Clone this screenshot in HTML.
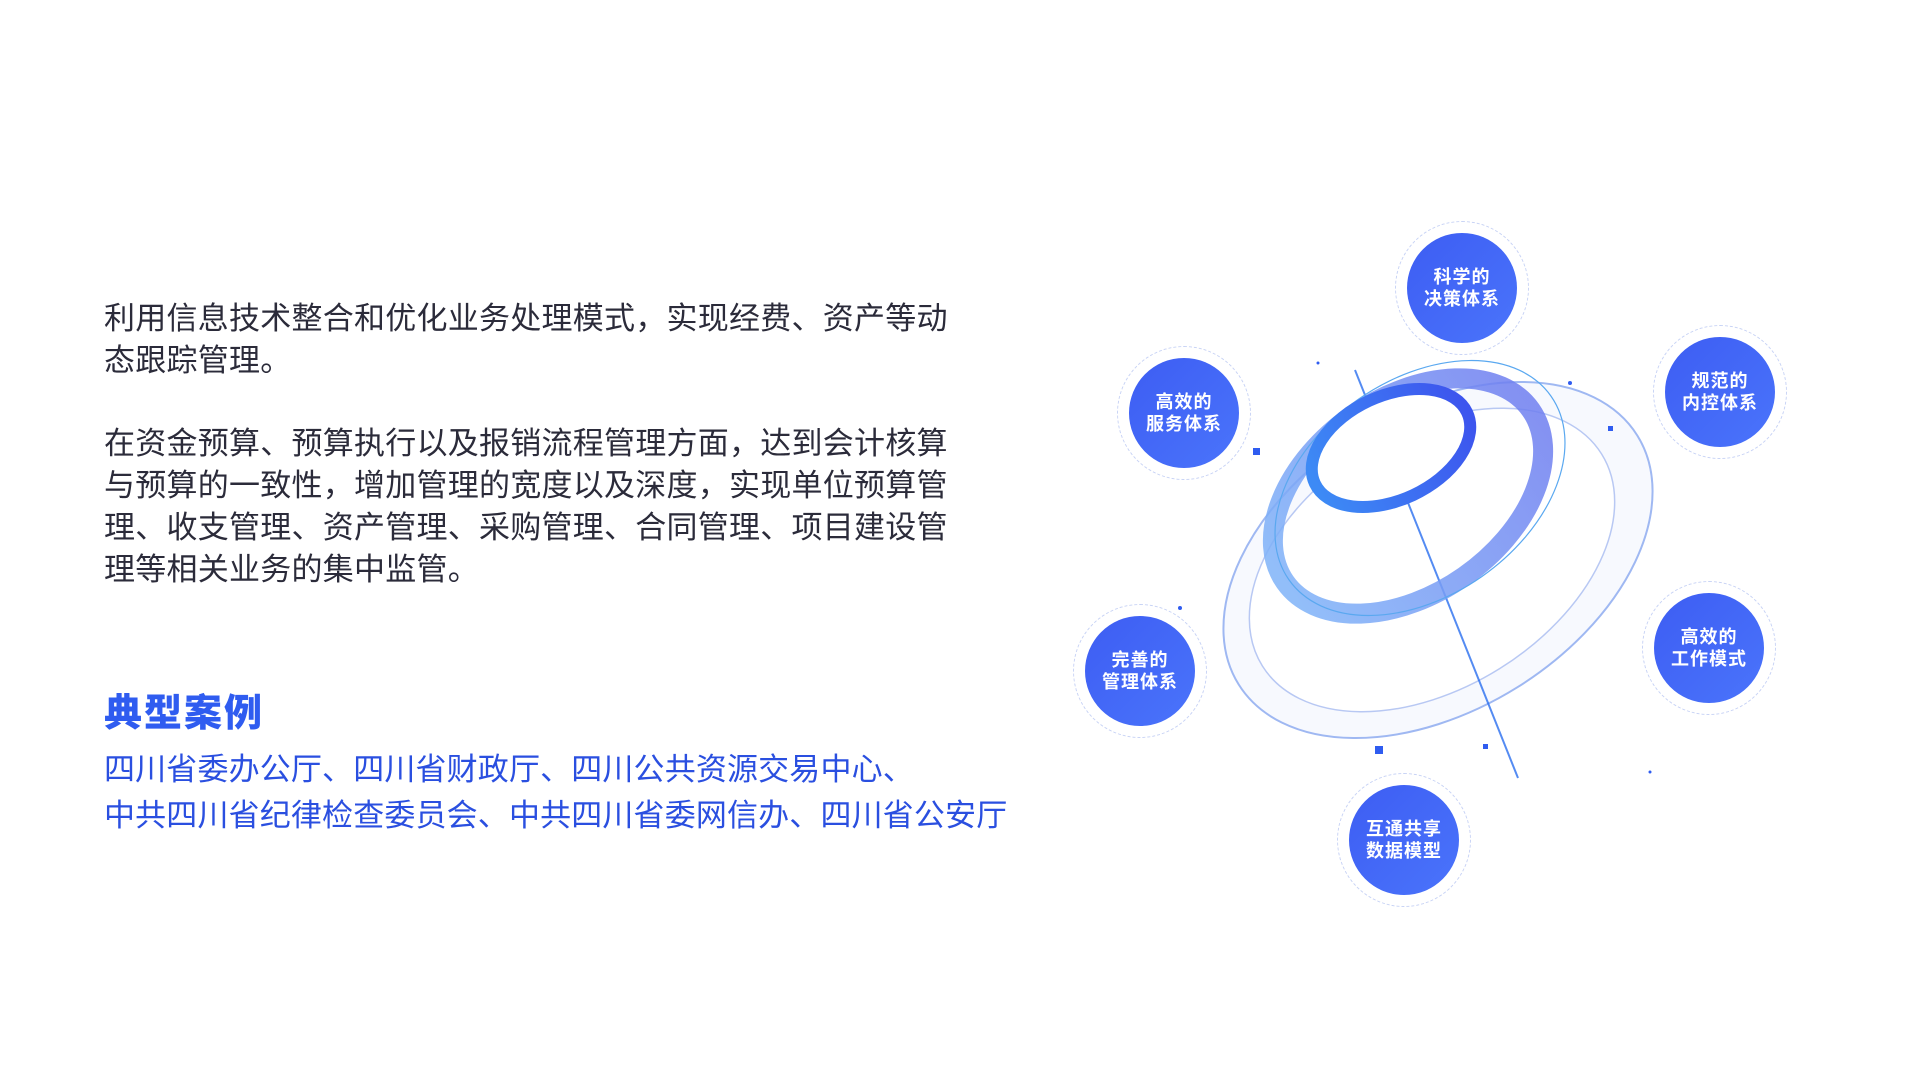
<!DOCTYPE html>
<html><head><meta charset="utf-8"><style>
html,body{margin:0;padding:0;background:#fff;width:1920px;height:1080px;overflow:hidden;font-family:"Liberation Sans","Noto Sans CJK SC",sans-serif}
.p{position:absolute;left:104px;width:900px;font-size:31px;line-height:42px;color:#2b2b3a;white-space:nowrap;letter-spacing:0.25px}
.h{position:absolute;left:104px;top:682px;font-size:38px;font-weight:900;color:#2f5cf0;letter-spacing:2px}
.c{position:absolute;left:104px;font-size:31px;color:#2a4fe0;white-space:nowrap;line-height:46px;letter-spacing:0.15px}
.n{position:absolute;width:110px;height:110px;border-radius:50%;background:linear-gradient(135deg,#3d5df3,#4a74fb);color:#fff;font-weight:bold;font-size:18px;line-height:22px;display:flex;align-items:center;justify-content:center;text-align:center;letter-spacing:1px}
.o{position:absolute;width:134px;height:134px;border-radius:50%;border:1.5px dashed #c8d3f5;box-sizing:border-box}
</style></head><body>
<div class="p" style="top:298px">利用信息技术整合和优化业务处理模式，实现经费、资产等动<br>态跟踪管理。</div>
<div class="p" style="top:423px">在资金预算、预算执行以及报销流程管理方面，达到会计核算<br>与预算的一致性，增加管理的宽度以及深度，实现单位预算管<br>理、收支管理、资产管理、采购管理、合同管理、项目建设管<br>理等相关业务的集中监管。</div>
<div class="h">典型案例</div>
<div class="c" style="top:747px">四川省委办公厅、四川省财政厅、四川公共资源交易中心、</div>
<div class="c" style="top:793px">中共四川省纪律检查委员会、中共四川省委网信办、四川省公安厅</div>

<svg width="1920" height="1080" style="position:absolute;left:0;top:0" xmlns="http://www.w3.org/2000/svg">
<defs>
<linearGradient id="g1" x1="0" y1="0" x2="1" y2="0"><stop offset="0" stop-color="#7fb2f8"/><stop offset="1" stop-color="#6f7ff0"/></linearGradient>
<linearGradient id="g2" x1="0" y1="0" x2="1" y2="0"><stop offset="0" stop-color="#3d8af5"/><stop offset="1" stop-color="#3d55ee"/></linearGradient>
</defs>
<ellipse cx="1438" cy="560" rx="235" ry="150" transform="rotate(-32 1438 560)" fill="#f7f9fe" stroke="#9fb8f2" stroke-width="2"/>
<ellipse cx="1432" cy="560" rx="200" ry="128" transform="rotate(-32 1432 560)" fill="#fff" stroke="#b8c8f3" stroke-width="1.5"/>
<line x1="1355" y1="370" x2="1518" y2="778" stroke="#2a6ff0" stroke-width="2" opacity="0.8"/>
<ellipse cx="1408" cy="496" rx="150" ry="98" transform="rotate(-35 1408 496)" fill="none" stroke="url(#g1)" stroke-width="20" opacity="0.85"/>
<ellipse cx="1420" cy="488" rx="160" ry="108" transform="rotate(-35 1420 488)" fill="none" stroke="#5aa8f0" stroke-width="1.2"/>
<ellipse cx="1391" cy="448" rx="84" ry="52" transform="rotate(-25 1391 448)" fill="#fff" stroke="url(#g2)" stroke-width="12"/>
<rect x="1253" y="448" width="7" height="7" fill="#2f5cf0"/>
<rect x="1375" y="746" width="8" height="8" fill="#2f5cf0"/>
<rect x="1483" y="744" width="5" height="5" fill="#2f5cf0"/>
<rect x="1608" y="426" width="5" height="5" fill="#2f5cf0"/>
<circle cx="1570" cy="383" r="2" fill="#2f5cf0"/>
<circle cx="1318" cy="363" r="1.5" fill="#2f5cf0"/>
<circle cx="1180" cy="608" r="2" fill="#2f5cf0"/>
<circle cx="1650" cy="772" r="1.5" fill="#2f5cf0"/>
</svg>

<div class="o" style="left:1395px;top:221px"></div><div class="n" style="left:1407px;top:233px">科学的<br>决策体系</div>
<div class="o" style="left:1117px;top:346px"></div><div class="n" style="left:1129px;top:358px">高效的<br>服务体系</div>
<div class="o" style="left:1653px;top:325px"></div><div class="n" style="left:1665px;top:337px">规范的<br>内控体系</div>
<div class="o" style="left:1073px;top:604px"></div><div class="n" style="left:1085px;top:616px">完善的<br>管理体系</div>
<div class="o" style="left:1642px;top:581px"></div><div class="n" style="left:1654px;top:593px">高效的<br>工作模式</div>
<div class="o" style="left:1337px;top:773px"></div><div class="n" style="left:1349px;top:785px">互通共享<br>数据模型</div>
</body></html>
